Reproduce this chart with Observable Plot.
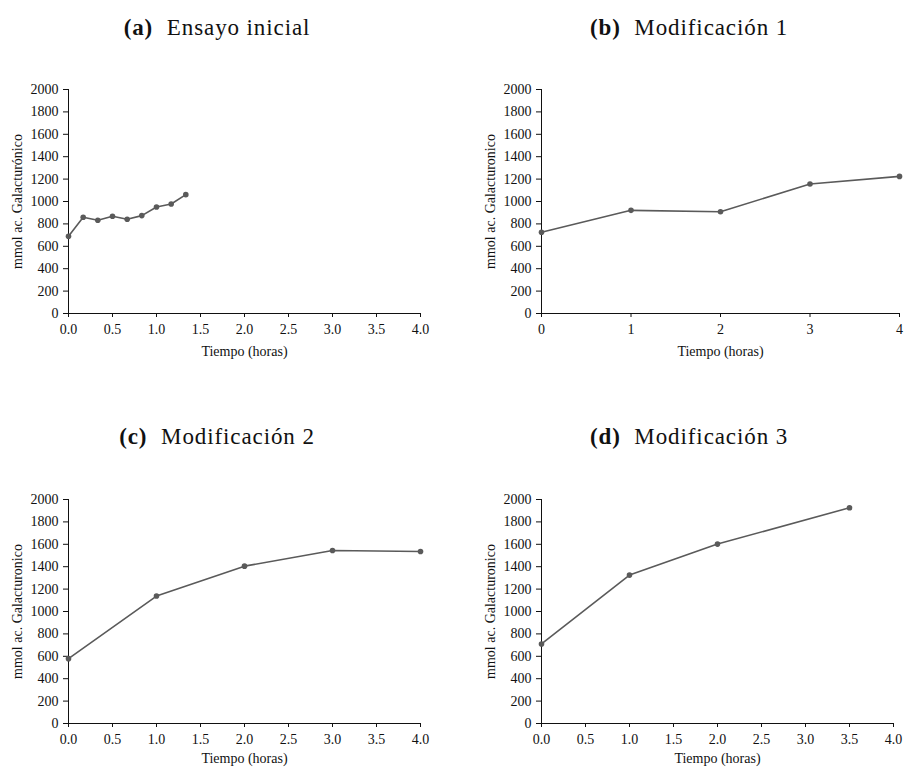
<!DOCTYPE html>
<html>
<head>
<meta charset="utf-8">
<script src="https://cdn.jsdelivr.net/npm/d3@7"></script>
<script src="https://cdn.jsdelivr.net/npm/@observablehq/plot@0.6"></script>
<style>
  html, body { margin: 0; padding: 0; background: #fff; }
  #root { position: relative; width: 905px; height: 767px; overflow: hidden; background: #fff; }
  .panel { position: absolute; }
  .title { position: absolute; font-family: "Liberation Serif", serif; font-size: 23px; letter-spacing: 0.9px; color: #111; white-space: nowrap; transform: translateX(-50%); line-height: 1; }
  .title b { font-weight: bold; margin-right: 7px; }
</style>
</head>
<body>
<div id="root"></div>
<script>
// ---- Data ----
const titles = ["Ensayo inicial", "Modificación 1", "Modificación 2", "Modificación 3"];
const letters = ["(a)", "(b)", "(c)", "(d)"];
const yLabels = ["mmol ac. Galacturónico", "mmol ac. Galacturonico", "mmol ac. Galacturonico", "mmol ac. Galacturonico"];
const xLabel = "Tiempo (horas)";

const timeA = [0, 0.167, 0.333, 0.5, 0.667, 0.833, 1.0, 1.167, 1.333];
const valuesA = [689, 859, 832, 868, 841, 874, 951, 978, 1061];

const timeB = [0, 1, 2, 3, 4];
const valuesB = [725, 921, 909, 1156, 1224];

const timeC = [0, 1, 2, 3, 4];
const valuesC = [579, 1138, 1405, 1545, 1536];

const timeD = [0, 1, 2, 3.5];
const valuesD = [710, 1325, 1602, 1926];

const yTicks = [0, 200, 400, 600, 800, 1000, 1200, 1400, 1600, 1800, 2000];
const xTicksHalf = [0, 0.5, 1, 1.5, 2, 2.5, 3, 3.5, 4];
const xTicksInt = [0, 1, 2, 3, 4];

// ---- Layout ----
const panels = [
  {time: timeA, values: valuesA, xTicks: xTicksHalf, fmt: d3.format(".1f"),
   left: 0, top: 60, width: 450, height: 320, ml: 68, mr: 30, mt: 29, mb: 67, xlo: 42, tx: 217, ty: 16},
  {time: timeB, values: valuesB, xTicks: xTicksInt, fmt: d3.format("d"),
   left: 450, top: 60, width: 455, height: 320, ml: 91, mr: 6, mt: 29, mb: 67, xlo: 42, tx: 689, ty: 16},
  {time: timeC, values: valuesC, xTicks: xTicksHalf, fmt: d3.format(".1f"),
   left: 0, top: 470, width: 450, height: 297, ml: 68, mr: 30, mt: 29, mb: 44, xlo: 39, tx: 217, ty: 425},
  {time: timeD, values: valuesD, xTicks: xTicksHalf, fmt: d3.format(".1f"),
   left: 450, top: 470, width: 455, height: 297, ml: 91, mr: 12, mt: 29, mb: 44, xlo: 39, tx: 689, ty: 425}
];

const root = document.getElementById("root");
const lineColor = "#5a5a5a";

panels.forEach((p, i) => {
  const data = p.time.map((t, k) => ({t, v: p.values[k]}));
  const chart = Plot.plot({
    width: p.width,
    height: p.height,
    marginLeft: p.ml,
    marginRight: p.mr,
    marginTop: p.mt,
    marginBottom: p.mb,
    style: {fontFamily: "'Liberation Serif', serif", fontSize: "14px", color: "#111", background: "transparent", overflow: "visible"},
    x: {domain: [0, 4]},
    y: {domain: [0, 2000]},
    marks: [
      Plot.axisY({ticks: yTicks, tickFormat: d3.format("d"), tickSize: 5, tickPadding: 5, label: yLabels[i], labelAnchor: "center", labelArrow: "none", labelOffset: 56, stroke: "#111"}),
      Plot.axisX({ticks: p.xTicks, tickFormat: p.fmt, tickSize: 4, tickPadding: 7, label: xLabel, labelAnchor: "center", labelArrow: "none", labelOffset: p.xlo, stroke: "#111"}),
      Plot.ruleX([0], {stroke: "#111", strokeWidth: 1}),
      Plot.ruleY([0], {stroke: "#111", strokeWidth: 1}),
      Plot.line(data, {x: "t", y: "v", stroke: lineColor, strokeWidth: 1.6}),
      Plot.dot(data, {x: "t", y: "v", r: 2.8, fill: lineColor, stroke: "none"})
    ]
  });
  const wrap = document.createElement("div");
  wrap.className = "panel";
  wrap.style.left = p.left + "px";
  wrap.style.top = p.top + "px";
  wrap.appendChild(chart);
  root.appendChild(wrap);

  const t = document.createElement("div");
  t.className = "title";
  t.style.left = p.tx + "px";
  t.style.top = p.ty + "px";
  const b = document.createElement("b");
  b.textContent = letters[i];
  t.appendChild(b);
  t.appendChild(document.createTextNode(" " + titles[i]));
  root.appendChild(t);
});
</script>
</body>
</html>
